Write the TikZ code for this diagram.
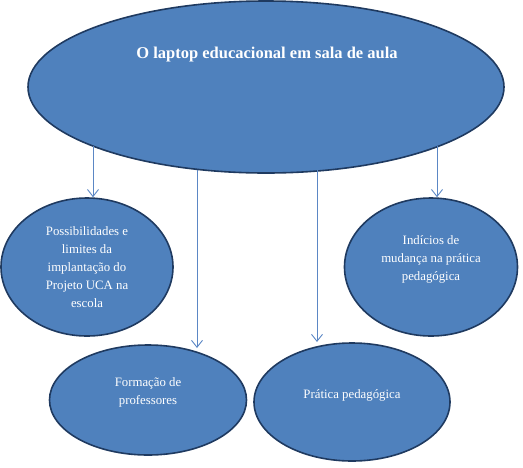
\documentclass[tikz,border=0pt]{standalone}
\usepackage{fontspec}
\setmainfont{Liberation Serif}
\usetikzlibrary{shapes.geometric,arrows.meta}
\definecolor{fillblue}{HTML}{4F81BD}
\definecolor{edgeblue}{HTML}{1F3A60}
\definecolor{arrblue}{HTML}{5B87C5}
\tikzset{
  blob/.style={ellipse, fill=fillblue, draw=edgeblue, line width=1.6pt, inner sep=0pt},
  txt/.style={text=white, align=center, font=\fontsize{12.8}{18}\selectfont, inner sep=0pt},
  arr/.style={draw=arrblue, line width=0.9pt, -{Straight Barb[length=7pt,width=11pt]}}
}
\begin{document}
\begin{tikzpicture}[x=1pt,y=-1pt]
\useasboundingbox (0,0) rectangle (523,467);
% top ellipse
\node[blob, minimum width=476pt, minimum height=172pt] (top) at (266,87) {};
\node[txt, font=\bfseries\fontsize{16.5}{18}\selectfont] (toptxt) at (267,55) {O laptop educacional em sala de aula};
% lower ellipses
\node[blob, minimum width=172pt, minimum height=138pt] (pos) at (87,267) {};
\node[txt] (postxt) at (87,267) {Possibilidades e\\limites da\\implantação do\\Projeto UCA na\\escola};
\node[blob, minimum width=173pt, minimum height=138pt] (ind) at (431,267) {};
\node[txt] (indtxt) at (431,259) {Indícios de\\mudança na prática\\pedagógica};
\node[blob, minimum width=197pt, minimum height=110pt] (for) at (148,400) {};
\node[txt] (fortxt) at (148,392) {Formação de\\professores};
\node[blob, minimum width=196pt, minimum height=118pt] (pra) at (352,402) {};
\node[txt] (pratxt) at (352,395) {Prática pedagógica};
% connectors
\coordinate (s1) at (93,146);
\coordinate (s2) at (197,170);
\coordinate (s3) at (317,170);
\coordinate (s4) at (437,146);
\draw[arr] (s1) -- (s1 |- pos.north);
\draw[arr] (s2) -- (197,348);
\draw[arr] (s3) -- (317,342);
\draw[arr] (s4) -- (s4 |- ind.north);
\end{tikzpicture}
\end{document}
